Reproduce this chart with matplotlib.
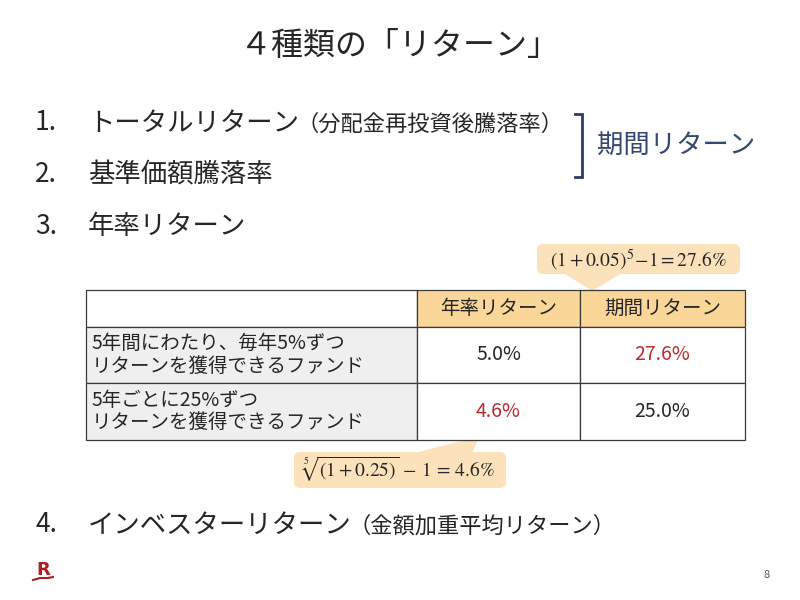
import matplotlib
matplotlib.use("Agg")
import matplotlib.pyplot as plt
from matplotlib.patches import Rectangle, FancyBboxPatch, Polygon

plt.rcParams['font.family'] = ['Noto Sans CJK JP', 'DejaVu Sans']

# ---- slide content ----
title = "４種類の「リターン」"
item_numbers = ["1.", "2.", "3.", "4."]
item_texts = ["トータルリターン", "基準価額騰落率", "年率リターン", "インベスターリターン"]
item_notes = ["（分配金再投資後騰落率）", "", "", "（金額加重平均リターン）"]
bracket_label = "期間リターン"

col_headers = ["", "年率リターン", "期間リターン"]
row_labels = ["5年間にわたり、毎年5%ずつ\nリターンを獲得できるファンド",
              "5年ごとに25%ずつ\nリターンを獲得できるファンド"]
annual_return = [5.0, 4.6]
period_return = [27.6, 25.0]
highlight = [[False, True], [True, False]]   # red text cells

formula_period = r"$(1+0.05)^5\!-\!1 = 27.6\%$"
formula_annual = r"$\sqrt[5]{(1+0.25)}\,-\,1\,=\,4.6\%$"
page_no = "8"

# ---- colours ----
TEXT = "#262626"
NAVY = "#2f3b66"
HEAD_FILL = "#fad699"
NOTE_FILL = "#fbe2bb"
GRAY_FILL = "#efefef"
RED = "#c0282d"

fig = plt.figure(figsize=(8, 6), dpi=100)
ax = fig.add_axes([0, 0, 1, 1])
ax.set_xlim(0, 800)
ax.set_ylim(600, 0)
ax.axis('off')

# title
ax.text(400, 46, title, fontsize=23, ha='center', va='center', color=TEXT)

# numbered items
item_y = [123, 175, 227, 525]
for num, txt, note, y in zip(item_numbers, item_texts, item_notes, item_y):
    ax.text(35, y, num, fontsize=19, ha='left', va='center', color=TEXT)
    t = ax.text(88, y, txt, fontsize=19, ha='left', va='center', color=TEXT)
    if note:
        fig.canvas.draw()
        bb = t.get_window_extent()
        x_end = bb.x1  # pixels == data x since axes spans figure
        ax.text(x_end - 3, y + 1, note, fontsize=16, ha='left', va='center', color=TEXT)

# bracket + label
ax.plot([575, 582, 582, 575], [114, 114, 177, 177], color=NAVY, lw=2, solid_joinstyle='miter')
ax.text(597, 145, bracket_label, fontsize=19, ha='left', va='center', color="#34476f")

# table
col_x = [86, 417, 580, 745]
row_y = [290, 327, 383, 440]

# callout pointers under the table
ax.add_patch(Polygon([[565, 274], [620, 274], [592, 291]], closed=True,
                     facecolor=NOTE_FILL, edgecolor='none', zorder=1))
ax.add_patch(Polygon([[415, 453], [472, 453], [480, 436]], closed=True,
                     facecolor=NOTE_FILL, edgecolor='none', zorder=1))

for r in range(3):
    for c in range(3):
        x0, x1 = col_x[c], col_x[c + 1]
        y0, y1 = row_y[r], row_y[r + 1]
        if r == 0:
            fill = HEAD_FILL if c > 0 else 'white'
        else:
            fill = GRAY_FILL if c == 0 else 'white'
        ax.add_patch(Rectangle((x0, y0), x1 - x0, y1 - y0, facecolor=fill,
                               edgecolor='#3a3a3a', lw=0.9, zorder=2))

for c in range(1, 3):
    ax.text((col_x[c] + col_x[c + 1]) / 2, (row_y[0] + row_y[1]) / 2, col_headers[c],
            fontsize=14, ha='center', va='center', color=TEXT, zorder=3)

for r, lab in enumerate(row_labels):
    yc = (row_y[r + 1] + row_y[r + 2]) / 2
    ax.text(92, yc, lab, fontsize=14, ha='left', va='center', color=TEXT,
            linespacing=1.1, zorder=3)
    vals = [annual_return[r], period_return[r]]
    for c in range(2):
        xc = (col_x[c + 1] + col_x[c + 2]) / 2
        ax.text(xc, yc, f"{vals[c]:.1f}%", fontsize=14, ha='center', va='center',
                color=RED if highlight[r][c] else TEXT, zorder=3)

# callout boxes
ax.add_patch(FancyBboxPatch((537, 244), 203, 30, boxstyle="round,pad=0,rounding_size=6",
                            facecolor=NOTE_FILL, edgecolor='none', zorder=1))
ax.text(638, 260, formula_period, fontsize=14, ha='center', va='center',
        color=TEXT, math_fontfamily='stix', zorder=3)

ax.add_patch(FancyBboxPatch((294, 452), 212, 36, boxstyle="round,pad=0,rounding_size=6",
                            facecolor=NOTE_FILL, edgecolor='none', zorder=1))
ax.text(398, 469, formula_annual, fontsize=14, ha='center', va='center',
        color=TEXT, math_fontfamily='stix', zorder=3)

# logo and page number
ax.text(43, 570, "R", fontsize=13, fontweight='bold', ha='center', va='center',
        color="#b01c24", family='DejaVu Sans')
ax.plot([33, 40, 48, 53], [580, 578, 578, 577], color="#b01c24", lw=1.5)
ax.text(767, 575, page_no, fontsize=8, ha='center', va='center', color="#555555")

fig.savefig("out.png", dpi=100)
